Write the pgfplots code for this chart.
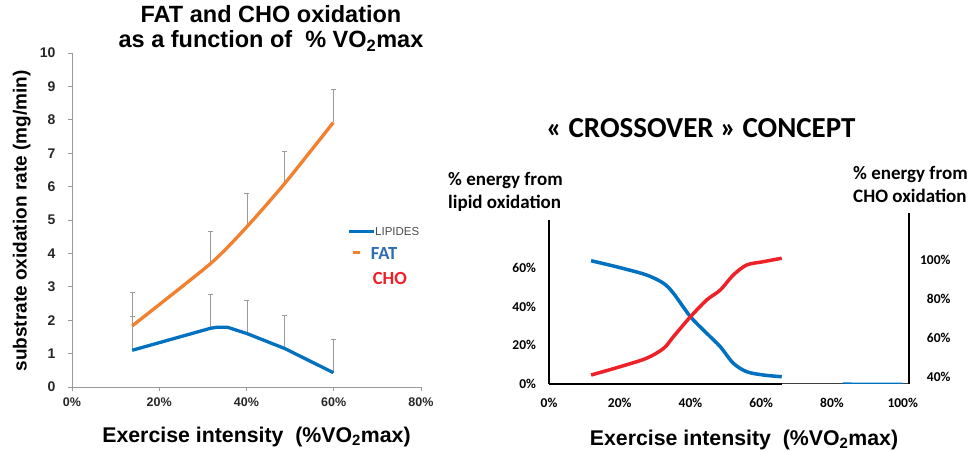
\documentclass[border=0pt]{standalone}
\usepackage{pgfplots}
\pgfplotsset{compat=1.18}
\usepackage{fontspec}
\setmainfont{Liberation Sans}
\newfontfamily\calibri{Carlito}
\definecolor{cblue}{HTML}{0070C0}
\definecolor{corange}{HTML}{F2802E}
\definecolor{cred}{HTML}{EE2028}
\definecolor{fatblue}{HTML}{2E6DB4}
\definecolor{axgray}{HTML}{9A9A9A}
\begin{document}
\begin{tikzpicture}[x=1pt,y=1pt]
\path[use as bounding box] (0,0) rectangle (971,450);
% ---------------- left chart ----------------
\begin{axis}[
  at={(72pt,63pt)}, anchor=south west, scale only axis,
  width=349pt, height=334pt,
  xmin=0, xmax=80, ymin=0, ymax=10,
  axis lines=left,
  axis line style={-, draw=axgray, line width=0.8pt},
  tick align=outside, major tick length=4pt,
  tick style={axgray, line width=0.8pt},
  xtick={0,20,40,60,80}, xticklabels={0\%,20\%,40\%,60\%,80\%},
  ytick={0,1,2,3,4,5,6,7,8,9,10}, yticklabels={0,1,2,3,4,5,6,7,8,9,10},
  xticklabel style={yshift=-3pt, font=\fontsize{12.5}{14}\selectfont\bfseries, text=black!85},
  yticklabel style={xshift=-9pt, font=\fontsize{14}{16}\selectfont\bfseries, text=black!85},
  clip=false,
]
\addplot[draw=none, mark=none,
  error bars/.cd, y dir=plus, y explicit,
  error bar style={draw=axgray, line width=0.8pt},
  error mark options={draw=axgray, line width=0.8pt, mark size=2.5pt, rotate=90}]
  coordinates {(13.8,1.83) +- (0,1.0) (31.8,3.70) +- (0,0.97) (40.1,4.80) +- (0,1.0) (48.8,6.10) +- (0,0.96) (59.9,7.92) +- (0,1.0)
               (13.8,1.10) +- (0,1.0) (31.8,1.77) +- (0,0.99) (40.1,1.60) +- (0,0.98) (48.8,1.13) +- (0,1.0) (59.9,0.43) +- (0,1.0)};
\addplot[corange, line width=3.3pt, smooth, tension=0.4] coordinates {(13.8,1.83) (31.8,3.70) (40.1,4.80) (48.8,6.10) (59.9,7.92)};
\addplot[cblue, line width=3.3pt, line join=round] coordinates {(13.8,1.10) (31.8,1.76) (33.3,1.79) (35.6,1.79) (40.1,1.60) (48.8,1.15) (59.9,0.43)};
\end{axis}
% titles and labels (left)
\node[anchor=base, font=\fontsize{23.5}{25}\selectfont\bfseries] at (271,427.3) {FAT and CHO oxidation};
\node[anchor=base, font=\fontsize{23.5}{25}\selectfont\bfseries] at (271,402) {as a function of \ \% VO\textsubscript{2}max};
\node[rotate=90, font=\fontsize{19}{21}\selectfont\bfseries] at (21.7,229) {substrate oxidation rate (mg/min)};
\node[anchor=base, font=\fontsize{21.3}{23}\selectfont\bfseries] at (256.5,8) {Exercise intensity \ (\%VO\textsubscript{2}max)};
% legend (left)
\draw[cblue, line width=2.7pt] (349,218.3) -- (374,218.3);
\node[anchor=west, inner sep=0pt, text=black!70, font=\fontsize{11.5}{13}\selectfont] at (375,218.3) {LIPIDES};
\draw[corange, line width=2.7pt] (352.7,197.7) -- (360,197.7);
\node[anchor=west, inner sep=0pt, text=fatblue, font=\calibri\fontsize{18.5}{20}\selectfont\bfseries] at (370.7,196.7) {FAT};
\node[anchor=west, inner sep=0pt, text=cred, font=\calibri\fontsize{18.5}{20}\selectfont\bfseries] at (372.7,171.7) {CHO};
% ---------------- right chart ----------------
\begin{axis}[
  at={(549pt,66.3pt)}, anchor=south west, scale only axis,
  width=353.7pt, height=163.7pt,
  xmin=0, xmax=100, ymin=0, ymax=84.8,
  axis lines=left,
  axis line style={-, draw=black, line width=2.5pt},
  x axis line style={draw opacity=0},
  major tick length=0pt,
  xtick={0,20,40,60,80,100}, xticklabels={0\%,20\%,40\%,60\%,80\%,100\%},
  ytick={0,20,40,60}, yticklabels={0\%,20\%,40\%,60\%},
  xticklabel style={anchor=center, yshift=-19pt, font=\calibri\fontsize{13.5}{15}\selectfont\bfseries},
  yticklabel style={xshift=-9.5pt, font=\calibri\fontsize{13.5}{15}\selectfont\bfseries},
  clip=false,
]
\draw[black, line width=2.3pt] (axis cs:0,0) -- (axis cs:66,0);
\draw[black!75, line width=1.5pt] (axis cs:66,0) -- (axis cs:101.7,0);
\addplot[cblue, line width=1.3pt] coordinates {(83,0.3) (100,0.2)};
\addplot[cblue, line width=3.5pt, smooth, tension=0.5] coordinates {(11.9,63.7) (20.1,60.1) (27.6,56.3) (32.4,52.0) (35.2,46.8) (40.0,34.7) (44.6,26.1) (48.4,19.2) (52.1,10.6) (55.9,6.2) (60.6,4.5) (65.8,3.6)};
\addplot[cred, line width=3.5pt, smooth, tension=0.5] coordinates {(11.9,4.5) (20.1,8.8) (27.6,13.2) (32.4,18.3) (35.2,24.4) (40.0,34.7) (44.6,43.4) (48.4,48.5) (52.1,56.3) (55.9,61.5) (60.6,63.2) (65.8,65.0)};
\end{axis}
\begin{axis}[
  at={(909pt,66.3pt)}, anchor=south east, scale only axis,
  width=10pt, height=171pt,
  xmin=0, xmax=1, ymin=0, ymax=88.6,
  axis y line*=right, axis x line=none,
  axis line style={-, draw=black, line width=2.5pt},
  major tick length=0pt,
  ytick={3.6,23.8,44,64}, yticklabels={40\%,60\%,80\%,100\%},
  yticklabel style={anchor=east, xshift=45pt, font=\calibri\fontsize{13.5}{15}\selectfont\bfseries},
]
\addplot[draw=none] coordinates {(0,0)};
\end{axis}
\node[anchor=base, font=\calibri\fontsize{29}{31}\selectfont\bfseries] at (701,312.7) {« CROSSOVER » CONCEPT};
\node[anchor=base west, inner sep=0pt, font=\calibri\fontsize{19}{20}\selectfont\bfseries] at (448,264) {\% energy from};
\node[anchor=base west, inner sep=0pt, font=\calibri\fontsize{19}{20}\selectfont\bfseries] at (448,241) {lipid oxidation};
\node[anchor=base west, inner sep=0pt, font=\calibri\fontsize{19}{20}\selectfont\bfseries] at (853,270) {\% energy from};
\node[anchor=base west, inner sep=0pt, font=\calibri\fontsize{19}{20}\selectfont\bfseries] at (853,247) {CHO oxidation};
\node[anchor=base, font=\fontsize{21.3}{23}\selectfont\bfseries] at (744,5) {Exercise intensity \ (\%VO\textsubscript{2}max)};
\end{tikzpicture}
\end{document}
